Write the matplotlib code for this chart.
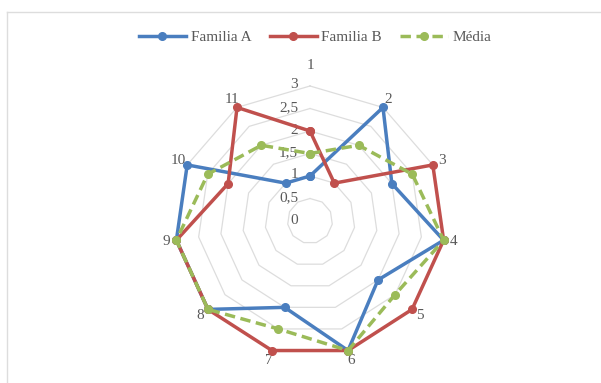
import matplotlib
matplotlib.use('Agg')
import matplotlib.pyplot as plt
import matplotlib.transforms as mtransforms
from matplotlib.lines import Line2D
import numpy as np

# dados do gráfico radar
categorias = ['1', '2', '3', '4', '5', '6', '7', '8', '9', '10', '11']
familia_a = [1, 3, 2, 3, 2, 3, 2, 3, 3, 3, 1]
familia_b = [2, 1, 3, 3, 3, 3, 3, 3, 3, 2, 3]
media = [1.5, 2, 2.5, 3, 2.5, 3, 2.5, 3, 3, 2.5, 2]
niveis = [0, 0.5, 1, 1.5, 2, 2.5, 3]
rotulos_niveis = ['0', '0,5', '1', '1,5', '2', '2,5', '3']

plt.rcParams['font.family'] = ['Liberation Serif', 'DejaVu Serif']
cor_texto = '#595959'
cor_grade = '#DDDDDD'
tam = 11

fig = plt.figure(figsize=(6.01, 3.83), dpi=100)
ax = fig.add_axes([175 / 601, 27 / 383, 270 / 601, 270 / 383], projection='polar')
ax.set_theta_zero_location('N')
ax.set_theta_direction(-1)
ax.set_ylim(0, 3)
ax.grid(False)
ax.spines['polar'].set_visible(False)
ax.set_xticks([])
ax.set_yticks([])
ax.patch.set_visible(False)

n = len(categorias)
angulos = np.arange(n) * 2 * np.pi / n
fechar = lambda v: list(v) + [v[0]]
ang_f = fechar(angulos)

# grade poligonal (estilo Excel)
for r in niveis[1:]:
    ax.plot(ang_f, [r] * (n + 1), color=cor_grade, lw=0.9, clip_on=False, zorder=1)

# rótulos do eixo radial, à esquerda do eixo superior
trans = mtransforms.offset_copy(ax.transData, fig=fig, x=-12, y=1, units='dots')
for r, txt in zip(niveis, rotulos_niveis):
    ax.text(0, r, txt, transform=trans, ha='right', va='center',
            fontsize=tam, color=cor_texto)

# rótulos das categorias
for i, (a, c) in enumerate(zip(angulos, categorias)):
    rr = 3.45 if i == 0 else 3.22
    ax.text(a, rr, c, ha='center', va='center', fontsize=tam, color=cor_texto)

ax.plot(ang_f, fechar(familia_a), color='#4A7EBF', lw=2.5, marker='o', ms=5.5,
        label='Familia A', clip_on=False, zorder=3)
ax.plot(ang_f, fechar(familia_b), color='#C0504D', lw=2.5, marker='o', ms=5.5,
        label='Familia B', clip_on=False, zorder=4)
ax.plot(ang_f, fechar(media), color='#9BBB59', lw=2.5, marker='o', ms=5.5,
        ls=(0, (3, 1.6)), label='Média', clip_on=False, zorder=5)

leg = fig.legend(loc='center', bbox_to_anchor=(0.524, 1 - 37 / 383), ncol=3,
                 frameon=False, fontsize=tam, handlelength=3.1, columnspacing=1.2,
                 handletextpad=0.3)
for t in leg.get_texts():
    t.set_color(cor_texto)

# moldura do gráfico
fig.add_artist(Line2D([7 / 601, 1], [1 - 12 / 383, 1 - 12 / 383], color=cor_grade, lw=1))
fig.add_artist(Line2D([7 / 601, 7 / 601], [0, 1 - 12 / 383], color=cor_grade, lw=1))

fig.savefig('out.png', dpi=100, facecolor='white')
